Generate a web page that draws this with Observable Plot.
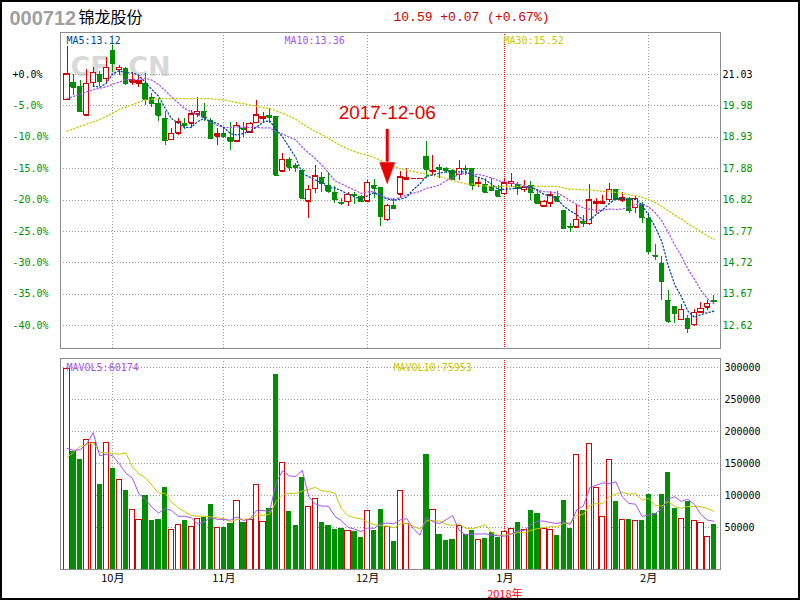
<!DOCTYPE html>
<html><head><meta charset="utf-8">
<script src="https://cdn.jsdelivr.net/npm/d3@7"></script>
<script src="https://cdn.jsdelivr.net/npm/@observablehq/plot@0.6"></script>
<style>
body{margin:0;background:#fff;}
#wrap{position:relative;width:800px;height:600px;overflow:hidden;background:#fff;}
#wrap svg{position:absolute;left:0;}
#border{position:absolute;left:0;top:0;width:800px;height:600px;box-sizing:border-box;border:2px solid #000;pointer-events:none;}
</style></head><body><div id="wrap"><div id="border"></div></div>
<script>
// ---------- data ----------
const stockCode = "000712";
const stockName = "锦龙股份";
const quoteText = "10.59 +0.07 (+0.67%)";
const basePrice = 21.03;
const open = [20.18,20.76,20.63,19.67,20.75,21.03,20.89,21.83,21.19,21.22,
 20.77,20.74,20.72,20.27,20.05,19.55,18.84,19.06,19.38,19.40,
 19.69,19.79,19.49,18.96,19.04,18.93,18.80,19.23,19.10,19.41,
 19.57,19.66,19.62,17.79,18.17,17.98,17.81,16.78,17.20,17.57,
 17.31,17.09,16.74,16.76,17.01,16.94,16.78,17.30,17.23,16.16,
 16.64,17.01,17.52,17.56,17.56,18.28,17.78,17.90,17.87,17.81,
 17.67,17.89,17.87,17.37,17.33,17.28,17.14,17.03,17.37,17.34,
 17.17,17.31,17.01,16.61,16.72,16.94,16.47,15.94,15.91,16.10,
 16.03,16.70,16.72,16.83,17.18,16.81,16.87,16.56,16.67,16.20,
 14.97,14.69,13.46,13.26,12.81,12.84,12.64,13.07,13.23,13.45];
const high = [21.97,21.02,20.83,21.19,21.25,21.14,21.59,22.00,21.33,21.28,
 21.05,20.96,21.05,20.38,20.22,19.79,19.21,19.55,19.55,19.82,
 20.27,20.07,19.55,19.21,19.21,19.43,19.43,19.43,19.43,20.16,
 19.77,19.88,19.62,18.37,18.24,18.06,17.84,17.31,17.98,17.76,
 17.76,17.29,16.87,17.09,17.09,16.98,17.48,17.50,17.25,16.67,
 16.87,17.79,17.87,17.56,17.56,18.79,18.32,18.01,17.92,17.84,
 18.15,17.98,17.89,17.53,17.53,17.56,17.31,17.50,17.72,17.42,
 17.48,17.44,17.17,16.81,17.11,17.11,16.47,16.05,16.64,16.31,
 17.34,16.87,16.98,17.39,17.18,17.09,16.92,16.98,16.75,16.38,
 15.33,14.93,13.79,13.26,13.32,12.96,13.15,13.40,13.46,13.62];
const low = [20.18,20.33,19.75,19.67,20.58,20.63,20.75,21.11,21.00,20.66,
 20.66,20.60,19.99,19.93,19.46,18.65,18.84,18.99,19.18,19.26,
 19.58,19.46,18.84,18.65,18.88,18.48,18.76,18.93,19.06,19.38,
 19.38,19.38,17.65,17.79,17.79,17.76,16.83,16.20,17.03,17.09,
 17.05,16.72,16.64,16.61,16.67,16.78,16.75,16.87,15.95,16.12,
 16.55,16.87,17.52,17.56,17.56,17.53,17.65,17.53,17.70,17.50,
 17.48,17.65,17.14,17.23,17.07,17.11,16.92,17.01,17.25,16.98,
 17.09,16.81,16.67,16.61,16.58,16.75,15.83,15.75,15.91,15.91,
 15.97,16.36,16.67,16.75,16.84,16.75,16.36,16.36,16.03,15.00,
 14.80,13.46,12.70,12.70,12.79,12.34,12.60,13.03,13.12,13.35];
const close = [21.03,20.60,19.79,20.72,21.09,20.81,21.25,21.39,21.25,20.72,
 20.83,20.81,20.19,20.05,19.66,18.82,19.04,19.43,19.31,19.69,
 19.79,19.58,18.90,19.02,18.96,18.80,19.32,19.18,19.38,19.66,
 19.60,19.60,17.65,18.17,17.92,17.90,16.87,17.17,17.62,17.39,
 17.12,16.84,16.70,17.00,16.97,16.78,17.40,17.22,16.28,16.63,
 16.55,17.59,17.56,17.56,17.56,17.84,17.81,17.84,17.81,17.50,
 17.87,17.84,17.31,17.39,17.09,17.14,16.94,17.39,17.44,17.22,
 17.25,17.09,16.72,16.77,16.98,16.77,15.86,15.92,16.16,16.05,
 16.81,16.75,16.76,17.17,16.84,16.88,16.47,16.87,16.23,15.11,
 14.93,14.10,12.76,13.01,13.15,12.51,13.05,13.18,13.35,13.41];
const volume = [298400,169700,156700,186400,182200,117700,182800,142700,125000,108300,
 78100,61400,100500,61900,63000,113000,47300,54700,61900,51600,
 63000,66100,86400,48900,50500,57200,91100,58800,61400,116100,
 58300,80200,289500,151600,75500,53600,128600,82800,95300,58800,
 53600,47800,48900,44200,44200,35300,75500,46300,79100,50500,
 29100,106700,56300,0,0,165000,77000,40000,30600,32200,
 52000,40000,46300,30600,33600,42200,34800,42700,48400,58300,
 46300,77000,72300,48400,46900,38000,92700,48900,163000,77000,
 181300,112500,67200,156300,91100,62500,63000,60900,61400,102000,
 72300,102000,136400,80200,64100,91100,60900,57800,36000,55000];
// moving-average values before each window fills
const ma10Head = [[0,20.22],[4,20.52],[6,20.62],[8,20.78]];
const ma30Head = [[0,19.13],[2,19.29],[4,19.44],[6,19.62],[8,19.86],[10,20.02],[12,20.18],[14,20.22],[18,20.22],[22,20.22],[24,20.18],[26,20.09],[28,20.01]];
const mavol5Head = [[0,174000],[1,171000],[2,172000],[3,181000]];
const mavol10Head = [[0,160000],[1,168000],[2,177000],[3,180000],[4,183000],[5,168000],[6,167000],[7,166000],[8,165000]];
const maLabels = ["MA5:13.12","MA10:13.36","MA30:15.52"];
const volMaLabels = ["MAVOL5:60174","MAVOL10:75953"];
const pctTicks = [0,-5,-10,-15,-20,-25,-30,-35,-40];
const pctLabels = ["+0.0%","-5.0%","-10.0%","-15.0%","-20.0%","-25.0%","-30.0%","-35.0%","-40.0%"];
const priceLabels = ["21.03","19.98","18.93","17.88","16.82","15.77","14.72","13.67","12.62"];
const volTicks = [300000,250000,200000,150000,100000,50000];
const volTickLabels = ["300000","250000","200000","150000","100000","50000"];
const months = ["10月","11月","12月","1月","2月"];
const monthStart = [7,24,46,67,89];
const yearLabel = "2018年";
const yearStart = 67;
const annotLabel = "2017-12-06";
const annotIndex = 49;
const arrowTop = 19.19, arrowHeadBase = 18.09, annotTextBase = 19.55;

// ---------- build ----------
const RED = "#d40000", GREEN = "#008f00", GRID = "#9a9a9a";
const C5 = "#00479d", C10 = "#a852ee", C30 = "#c8c800";
const days = d3.range(close.length).map(i => ({i, o: open[i], h: high[i], l: low[i], c: close[i], v: volume[i], up: close[i] >= open[i]}));
function movingAvg(values, k, head) {
  const pts = head.map(([i, v]) => ({i, v}));
  for (let i = k - 1; i < values.length; i++) pts.push({i, v: d3.mean(values.slice(i - k + 1, i + 1))});
  return pts;
}
const ma5 = movingAvg(close, 5, []);
const ma10 = movingAvg(close, 10, ma10Head);
const ma30 = movingAvg(close, 30, ma30Head);
const mv5 = movingAvg(volume, 5, mavol5Head);
const mv10 = movingAvg(volume, 10, mavol10Head);
const tickPrice = p => basePrice * (1 + p / 100);
const monthData = months.map((m, k) => ({label: m, i: monthStart[k]}));
const grayMonths = monthStart.filter(i => i !== yearStart);
const mono = "DejaVu Sans Mono";
const ups = days.filter(d => d.up), downs = days.filter(d => !d.up);
const hw = 0.4;
const dotted = {strokeWidth: 1.3, strokeDasharray: "1.2,2.3"};

const p1 = Plot.plot({
  width: 800, height: 352, marginLeft: 60, marginRight: 80, marginTop: 32, marginBottom: 4,
  x: {domain: [-1, 100], axis: null},
  y: {domain: [11.849, 22.437], axis: null},
  color: {type: "identity"},
  style: {background: "transparent", overflow: "visible", fontFamily: mono},
  marks: [
    Plot.text([stockCode], {text: d => d, frameAnchor: "top-left", dx: -51, dy: -8, lineAnchor: "bottom", textAnchor: "start", fontSize: 20, fontWeight: "bold", fontFamily: "Liberation Sans", fill: "#a0a0a0"}),
    Plot.text([stockName], {text: d => d, frameAnchor: "top-left", dx: 18, dy: -10, lineAnchor: "bottom", textAnchor: "start", fontSize: 16, fontFamily: "Noto Sans CJK SC", fill: "#000"}),
    Plot.text([quoteText], {text: d => d, frameAnchor: "top-left", dx: 333, dy: -12, lineAnchor: "bottom", textAnchor: "start", fontSize: 13, fontFamily: "Liberation Mono", fill: "#cc0000"}),
    Plot.text(["CFi.CN"], {text: d => d, frameAnchor: "top-left", dx: 10, dy: 43, lineAnchor: "bottom", textAnchor: "start", fontSize: 27, fontWeight: "bold", fontFamily: "DejaVu Sans", fill: "#d9d9d9"}),
    Plot.ruleY(pctTicks, {y: tickPrice, stroke: GRID, strokeDasharray: "1,2", shapeRendering: "crispEdges"}),
    Plot.ruleX(grayMonths, {x: d => d, stroke: GRID, strokeDasharray: "1,2", shapeRendering: "crispEdges"}),
    Plot.ruleX([yearStart], {x: d => d, stroke: "#ff0000", strokeDasharray: "1,1", shapeRendering: "crispEdges"}),
    // wicks
    Plot.ruleX(days, {x: "i", y1: "l", y2: "h", stroke: d => d.up ? RED : GREEN, shapeRendering: "crispEdges"}),
    // bodies
    Plot.rect(ups, {x1: d => d.i - hw, x2: d => d.i + hw, y1: "o", y2: "c", fill: "white", stroke: RED, shapeRendering: "crispEdges"}),
    Plot.rect(downs, {x1: d => d.i - hw, x2: d => d.i + hw, y1: "o", y2: "c", fill: GREEN, shapeRendering: "crispEdges"}),
    Plot.link(days, {x1: d => d.i - hw, x2: d => d.i + hw, y1: "c", y2: "c", stroke: d => d.up ? RED : GREEN, shapeRendering: "crispEdges"}),
    Plot.link(days, {x1: d => d.i - hw, x2: d => d.i + hw, y1: "o", y2: "o", stroke: d => d.up ? RED : GREEN, shapeRendering: "crispEdges"}),
    // moving averages (dotted)
    Plot.line(ma30, {x: "i", y: "v", stroke: C30, ...dotted}),
    Plot.line(ma10, {x: "i", y: "v", stroke: C10, ...dotted}),
    Plot.line(ma5, {x: "i", y: "v", stroke: C5, ...dotted}),
    // MA labels
    Plot.text([maLabels[0]], {text: d => d, frameAnchor: "top-left", dx: 6, dy: 11, lineAnchor: "bottom", textAnchor: "start", fontSize: 10, fill: C5}),
    Plot.text([maLabels[1]], {text: d => d, frameAnchor: "top-left", dx: 224, dy: 11, lineAnchor: "bottom", textAnchor: "start", fontSize: 10, fill: C10}),
    Plot.text([maLabels[2]], {text: d => d, frameAnchor: "top-left", dx: 443, dy: 11, lineAnchor: "bottom", textAnchor: "start", fontSize: 10, fill: C30}),
    // axis labels
    Plot.text(pctTicks, {y: tickPrice, text: (d, k) => pctLabels[k], frameAnchor: "left", dx: -48, textAnchor: "start", fontSize: 10, fill: d => d === 0 ? "#000" : GREEN}),
    Plot.text(pctTicks, {y: tickPrice, text: (d, k) => priceLabels[k], frameAnchor: "right", dx: 2, textAnchor: "start", fontSize: 10, fill: d => d === 0 ? "#000" : GREEN}),
    // annotation
    Plot.text([annotLabel], {x: () => annotIndex, y: () => annotTextBase, text: d => d, lineAnchor: "bottom", textAnchor: "middle", fontSize: 19, fontFamily: "Liberation Sans", fill: "#e60000"}),
    Plot.ruleX([annotIndex], {x: d => d, y1: arrowTop, y2: arrowHeadBase, stroke: "#e60000", strokeWidth: 3}),
    Plot.vector([annotIndex], {x: d => d, y: arrowHeadBase, length: 21.6, r: 7.6, rotate: 180, shape: "spike", anchor: "start", fill: "#e60000", stroke: "#e60000", strokeWidth: 0.5}),
    Plot.frame({stroke: "#8c8c8c", shapeRendering: "crispEdges"})
  ]
});

const upsV = days.filter(d => d.up && d.v > 0), downsV = days.filter(d => !d.up && d.v > 0);
const volMin = -15200;
const p2 = Plot.plot({
  width: 800, height: 248, marginLeft: 60, marginRight: 80, marginTop: 6, marginBottom: 31,
  x: {domain: [-1, 100], axis: null},
  y: {domain: [volMin, 314500], axis: null},
  color: {type: "identity"},
  style: {background: "transparent", overflow: "visible", fontFamily: mono},
  marks: [
    Plot.ruleY(volTicks, {y: d => d, stroke: GRID, strokeDasharray: "1,2", shapeRendering: "crispEdges"}),
    Plot.ruleX(grayMonths, {x: d => d, stroke: GRID, strokeDasharray: "1,2", shapeRendering: "crispEdges"}),
    Plot.ruleX([yearStart], {x: d => d, stroke: "#ff0000", strokeDasharray: "1,1", shapeRendering: "crispEdges"}),
    Plot.rect(upsV, {x1: d => d.i - hw, x2: d => d.i + hw, y1: volMin, y2: "v", fill: "white", stroke: RED, shapeRendering: "crispEdges"}),
    Plot.rect(downsV, {x1: d => d.i - hw, x2: d => d.i + hw, y1: volMin, y2: "v", fill: GREEN, shapeRendering: "crispEdges"}),
    Plot.line(mv10, {x: "i", y: "v", stroke: C30, strokeWidth: 1}),
    Plot.line(mv5, {x: "i", y: "v", stroke: C10, strokeWidth: 1}),
    Plot.text([volMaLabels[0]], {text: d => d, frameAnchor: "top-left", dx: 6, dy: 12, lineAnchor: "bottom", textAnchor: "start", fontSize: 10, fill: C10}),
    Plot.text([volMaLabels[1]], {text: d => d, frameAnchor: "top-left", dx: 333, dy: 12, lineAnchor: "bottom", textAnchor: "start", fontSize: 10, fill: C30}),
    Plot.text(volTicks, {y: d => d, text: (d, k) => volTickLabels[k], frameAnchor: "right", dx: 4, textAnchor: "start", fontSize: 10, fill: "#000"}),
    Plot.text(monthData, {x: "i", text: "label", frameAnchor: "bottom", dy: 12, lineAnchor: "bottom", fontSize: 11, fontFamily: "Noto Sans CJK SC", fill: "#000"}),
    Plot.text([yearLabel], {x: () => yearStart, text: d => d, frameAnchor: "bottom", dy: 28, lineAnchor: "bottom", fontSize: 11, fontFamily: "Noto Sans CJK SC", fill: "#ff0000"}),
    Plot.frame({stroke: "#8c8c8c", shapeRendering: "crispEdges"})
  ]
});

const wrap = document.getElementById("wrap");
p1.style.top = "0px";
p2.style.top = "352px";
wrap.insertBefore(p2, wrap.firstChild);
wrap.insertBefore(p1, wrap.firstChild);
</script></body></html>
